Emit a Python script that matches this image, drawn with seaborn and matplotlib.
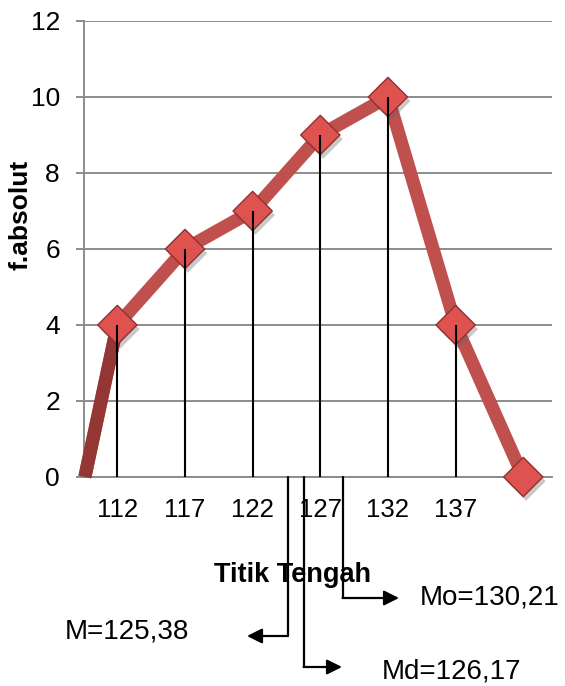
import matplotlib
matplotlib.use("Agg")
import matplotlib.pyplot as plt
import matplotlib.patheffects as pe
import seaborn as sns
import pandas as pd

# ---- data ----
titik_tengah = [109.6, 112, 117, 122, 127, 132, 137, 142]
f_absolut = [0, 4, 6, 7, 9, 10, 4, 0]
tick_labels = ["112", "117", "122", "127", "132", "137"]
tick_pos = [112, 117, 122, 127, 132, 137]
y_ticks = [0, 2, 4, 6, 8, 10, 12]
stat_labels = ["M=125,38", "Md=126,17", "Mo=130,21"]

df = pd.DataFrame({"x": titik_tengah, "y": f_absolut})

sns.set_style("white")
plt.rcParams["font.family"] = ["Liberation Sans", "DejaVu Sans"]
plt.rcParams["text.color"] = "black"
plt.rcParams["xtick.color"] = "black"
plt.rcParams["ytick.color"] = "black"
plt.rcParams["xtick.labelcolor"] = "black"
plt.rcParams["ytick.labelcolor"] = "black"

W, H = 565, 686
fig = plt.figure(figsize=(W / 100, H / 100), dpi=100)
L, R, T, B = 83.5, 552, 21, 477
ax = fig.add_axes([L / W, 1 - B / H, (R - L) / W, (B - T) / H])

xmin = 109.5
ppu = 13.532  # pixels per x unit
xmax = xmin + (R - L) / ppu
ax.set_xlim(xmin, xmax)
ax.set_ylim(0, 12)

def px2x(px):
    return xmin + (px - L) / ppu

def py2y(py):
    return (B - py) / 38.0

# gridlines
ax.set_yticks(y_ticks)
ax.yaxis.grid(True, color="#8c8c8c", linewidth=1.4, zorder=0)
ax.xaxis.grid(False)
for s in ["top", "right"]:
    ax.spines[s].set_visible(False)
for s in ["left", "bottom"]:
    ax.spines[s].set_color("#8c8c8c")
    ax.spines[s].set_linewidth(1.4)

# drop lines
ax.vlines(titik_tengah[1:-1], 0, f_absolut[1:-1], color="black", linewidth=1.5, zorder=8)

# polygon line
sns.lineplot(data=df, x="x", y="y", ax=ax, color="#C0504D", linewidth=9.5,
             solid_capstyle="butt", solid_joinstyle="round", clip_on=False, zorder=5)
sns.lineplot(data=df.iloc[:2], x="x", y="y", ax=ax, color="#933634", linewidth=9.5,
             solid_capstyle="butt", solid_joinstyle="round", clip_on=False, zorder=5)
# markers
sns.scatterplot(data=df.iloc[1:], x="x", y="y", ax=ax, marker="D", s=400,
                color="#DE5250", edgecolor="#8E3130", linewidth=1.0,
                clip_on=False, zorder=7,
                path_effects=[pe.SimplePatchShadow(offset=(2, -3), shadow_rgbFace="#666666", alpha=0.35),
                              pe.Normal()])

ax.set_xticks(tick_pos)
ax.set_xticklabels(tick_labels)
ax.tick_params(axis="x", length=0, pad=15, labelsize=18.5)
ax.tick_params(axis="y", length=6, color="#8c8c8c", width=1.4, pad=11, labelsize=19, left=True)
ax.set_xlabel("")
ax.set_ylabel("")

fig.text(21 / W, 1 - 215 / H, "f.absolut", rotation=90, fontsize=19,
         fontweight="bold", ha="center", va="center")
fig.text(293 / W, 1 - 575 / H, "Titik Tengah", fontsize=19.5,
         fontweight="bold", ha="center", va="center")

# annotations (mean, median, mode)
arrow_kw = dict(arrowstyle="-|>,head_length=0.9,head_width=0.45", color="black",
                linewidth=1.6, shrinkA=0, shrinkB=0)
ann = [  # vertical x px, corner y px, arrow tip x px
    (288, 636, 247),
    (303.5, 667, 342),
    (342.5, 598, 399),
]
for vx, cy, tx in ann:
    ax.plot([px2x(vx), px2x(vx)], [0, py2y(cy)], color="black", linewidth=1.6,
            clip_on=False, zorder=9)
    ax.annotate("", xy=(px2x(tx), py2y(cy)), xytext=(px2x(vx), py2y(cy)),
                arrowprops=arrow_kw, annotation_clip=False, zorder=9)

fig.text(65 / W, 1 - 632 / H, stat_labels[0], fontsize=20, ha="left", va="center")
fig.text(382 / W, 1 - 672 / H, stat_labels[1], fontsize=20, ha="left", va="center")
fig.text(420 / W, 1 - 598 / H, stat_labels[2], fontsize=20, ha="left", va="center")

fig.savefig("out.png", dpi=100)
